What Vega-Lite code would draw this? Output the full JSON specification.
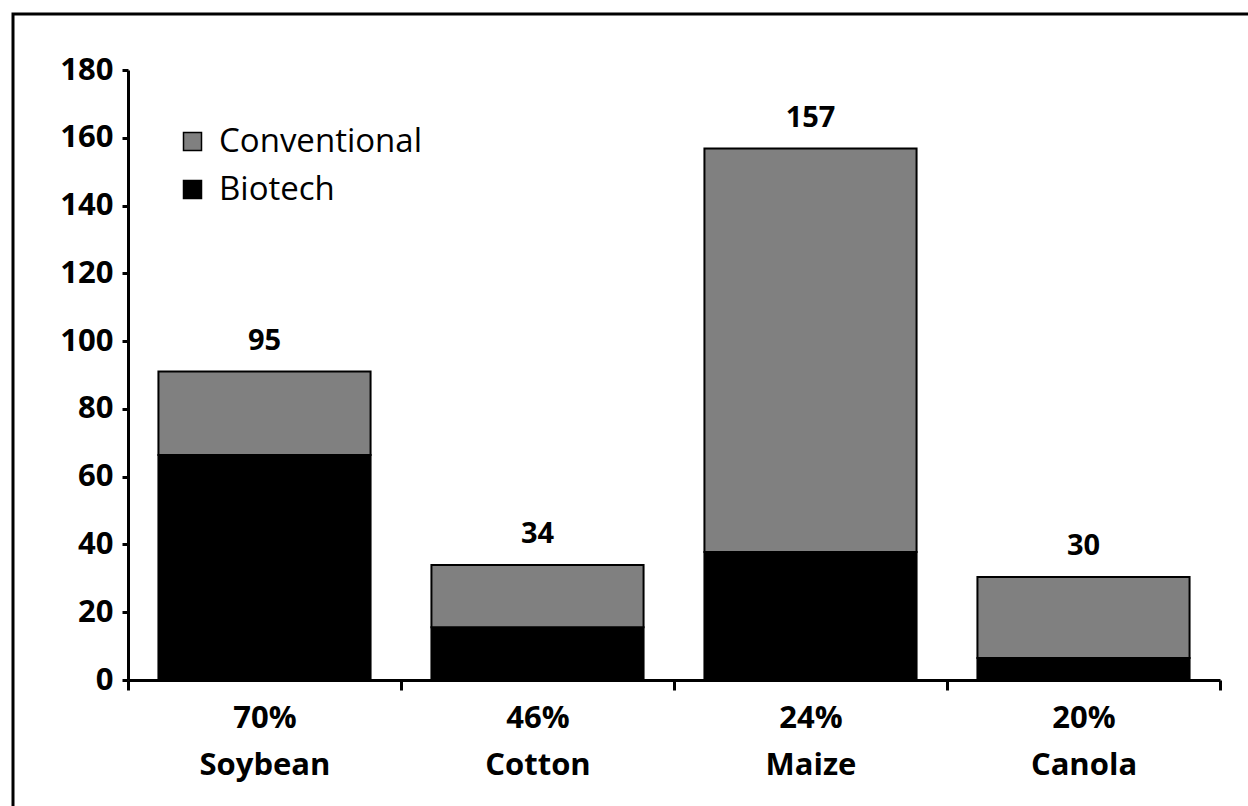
{
  "$schema": "https://vega.github.io/schema/vega-lite/v6.json",
  "width": 1240,
  "height": 797,
  "autosize": {"type": "none"},
  "padding": {"left": 13, "top": 14, "right": -5, "bottom": -5},
  "background": "white",
  "config": {
    "view": {"stroke": "black", "strokeWidth": 3},
    "font": "Open Sans"
  },
  "data": {
    "values": [
      {"crop": "70%|Soybean", "type": "Biotech", "value": 66.4, "label": "95"},
      {"crop": "70%|Soybean", "type": "Conventional", "value": 24.6, "label": "95"},
      {"crop": "46%|Cotton", "type": "Biotech", "value": 15.6, "label": "34"},
      {"crop": "46%|Cotton", "type": "Conventional", "value": 18.3, "label": "34"},
      {"crop": "24%|Maize", "type": "Biotech", "value": 37.8, "label": "157"},
      {"crop": "24%|Maize", "type": "Conventional", "value": 119.0, "label": "157"},
      {"crop": "20%|Canola", "type": "Biotech", "value": 6.5, "label": "30"},
      {"crop": "20%|Canola", "type": "Conventional", "value": 23.9, "label": "30"}
    ]
  },
  "encoding": {
    "x": {
      "field": "crop",
      "type": "nominal",
      "sort": null,
      "scale": {"range": [115, 1207], "paddingInner": 0, "paddingOuter": 0},
      "axis": {
        "orient": "bottom",
        "offset": -131,
        "title": null,
        "labelExpr": "isValid(datum.value) ? split(datum.value, '|') : ''",
        "labelAngle": 0,
        "labelFontSize": 31,
        "labelFontWeight": "bold",
        "labelColor": "black",
        "labelLineHeight": 47,
        "labelPadding": 13,
        "domainColor": "black",
        "domainWidth": 3,
        "tickColor": "black",
        "tickWidth": 3,
        "tickSize": 10,
        "tickBand": "extent",
        "grid": false
      }
    }
  },
  "layer": [
    {
      "mark": {"type": "bar", "stroke": "black", "strokeWidth": 2, "width": {"band": 0.777}},
      "encoding": {
        "y": {
          "field": "value",
          "type": "quantitative",
          "stack": "zero",
          "scale": {"domain": [0, 180], "range": [666, 56], "nice": false, "zero": true},
          "axis": {
            "orient": "left",
            "offset": -115,
            "title": null,
            "values": [0, 20, 40, 60, 80, 100, 120, 140, 160, 180],
            "labelFontSize": 31,
            "labelFontWeight": "bold",
            "labelColor": "black",
            "labelPadding": 9,
            "domainColor": "black",
            "domainWidth": 3,
            "tickColor": "black",
            "tickWidth": 3,
            "tickSize": 6,
            "grid": false
          }
        },
        "color": {
          "field": "type",
          "type": "nominal",
          "scale": {"domain": ["Conventional", "Biotech"], "range": ["#808080", "#000000"]},
          "legend": {
            "orient": "none",
            "legendX": 163,
            "legendY": 111,
            "title": null,
            "padding": 0,
            "symbolType": "square",
            "symbolSize": 324,
            "symbolStrokeColor": "black",
            "symbolStrokeWidth": 1.5,
            "symbolOpacity": 1,
            "labelFontSize": 33,
            "labelColor": "black",
            "labelOffset": 10,
            "labelLimit": 0,
            "rowPadding": 14
          }
        },
        "order": {"field": "type", "sort": "ascending"}
      }
    },
    {
      "mark": {"type": "text", "fontSize": 29, "fontWeight": "bold", "color": "black", "baseline": "alphabetic", "dy": -22},
      "encoding": {
        "y": {"aggregate": "sum", "field": "value", "type": "quantitative"},
        "text": {"field": "label", "type": "nominal"}
      }
    }
  ]
}
